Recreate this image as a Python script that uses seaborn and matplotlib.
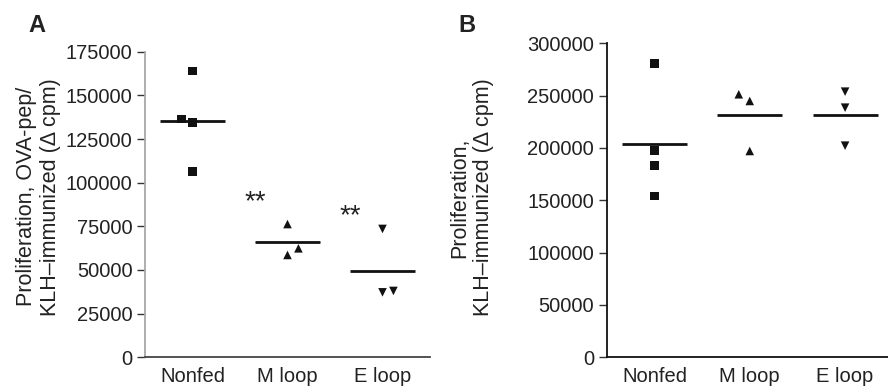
import numpy as np
import pandas as pd
import matplotlib
matplotlib.use("Agg")
import matplotlib.pyplot as plt
import seaborn as sns

# ---------------- data ----------------
groups = ["Nonfed", "M loop", "E loop"]

a_nonfed = [164000, 136500, 134300, 106500]
a_mloop = [76300, 62400, 58600]
a_eloop = [73500, 37200, 38000]

b_nonfed = [280900, 197400, 183500, 154100]
b_mloop = [251300, 244900, 197100]
b_eloop = [253800, 238500, 202200]

a_ticks = [0, 25000, 50000, 75000, 100000, 125000, 150000, 175000]
b_ticks = [0, 50000, 100000, 150000, 200000, 250000, 300000]

a_ylabel = "Proliferation, OVA-pep/\nKLH\u2013immunized (\u0394 cpm)"
b_ylabel = "Proliferation,\nKLH\u2013immunized (\u0394 cpm)"

# significance marks in panel A: (group index, value)
sig_text = "**"
sig_groups = [1, 2]
sig_values = [91800, 83800]

# ---------------- style / layout ----------------
sns.set_theme(style="white")
plt.rcParams["font.family"] = ["Liberation Sans", "DejaVu Sans"]

markers = {"Nonfed": "s", "M loop": "^", "E loop": "v"}
# small horizontal nudges so overlapping points are visible
a_nudge = [[0, -0.115, 0, 0], [0, 0.115, 0], [0, 0, 0.115]]
b_nudge = [[0, 0, 0, 0], [-0.115, 0, 0], [0, 0, 0]]

FS = 14.5
LFS = 15.5


def make_df(series, nudges):
    rows = []
    for gi, (g, vals) in enumerate(zip(groups, series)):
        for v, n in zip(vals, nudges[gi]):
            rows.append({"group": g, "x": gi + n, "value": v})
    return pd.DataFrame(rows)


fig = plt.figure(figsize=(8.88, 3.87), dpi=100)
axA = fig.add_axes([145 / 888, 1 - 357.3 / 387, (430 - 145) / 888, (357.3 - 51.7) / 387])
axB = fig.add_axes([606.7 / 888, 1 - 357.3 / 387, (888 - 606.7) / 888, (357.3 - 43.3) / 387])


def draw(ax, series, nudges, ticks, ylabel, xlim, spine_left, spine_bottom, label_x, label_y):
    df = make_df(series, nudges)
    sns.scatterplot(data=df, x="x", y="value", style="group", markers=markers,
                    color="#111111", s=38, edgecolor="none", linewidth=0,
                    legend=False, ax=ax, zorder=3)
    means = [np.mean(v) for v in series]
    for gi, m in enumerate(means):
        ax.hlines(m, gi - 0.34, gi + 0.34, color="#111111", linewidth=2.0, zorder=2)
    ax.set_xlim(*xlim)
    ax.set_ylim(0, ticks[-1])
    ax.set_yticks(ticks)
    ax.set_yticklabels([str(t) for t in ticks], fontsize=FS, color="#222222")
    ax.set_xticks(range(len(groups)))
    ax.set_xticklabels(groups, fontsize=FS, color="#222222")
    ax.tick_params(axis="y", direction="out", length=6, width=1.0, color="#333333",
                   left=True, pad=3)
    ax.tick_params(axis="x", length=0, pad=7)
    for s in ["top", "right"]:
        ax.spines[s].set_visible(False)
    ax.spines["left"].set_color(spine_left)
    ax.spines["bottom"].set_color(spine_bottom)
    ax.spines["left"].set_linewidth(1.3)
    ax.spines["bottom"].set_linewidth(1.3)
    ax.set_xlabel("")
    ax.set_ylabel(ylabel, fontsize=LFS, color="#222222", linespacing=1.2)
    ax.yaxis.set_label_coords(label_x, label_y)
    ax.grid(False)


draw(axA, [a_nonfed, a_mloop, a_eloop], a_nudge, a_ticks, a_ylabel,
     (-0.5, 2.5), "#a8a8a8", "#444444", -0.295, 0.525)
draw(axB, [b_nonfed, b_mloop, b_eloop], b_nudge, b_ticks, b_ylabel,
     (-0.5, 2.45), "#111111", "#111111", -0.4, 0.509)

for g, v in zip(sig_groups, sig_values):
    axA.annotate(sig_text, xy=(g - 0.34, v), xytext=(0, -4), textcoords="offset points",
                 ha="center", va="center", fontsize=20, color="#222222")

fig.text(28 / 888, 1 - 32 / 387, "A", fontsize=17, fontweight="bold", color="#222222")
fig.text(458 / 888, 1 - 32 / 387, "B", fontsize=17, fontweight="bold", color="#222222")

fig.savefig("out.png", dpi=100)
